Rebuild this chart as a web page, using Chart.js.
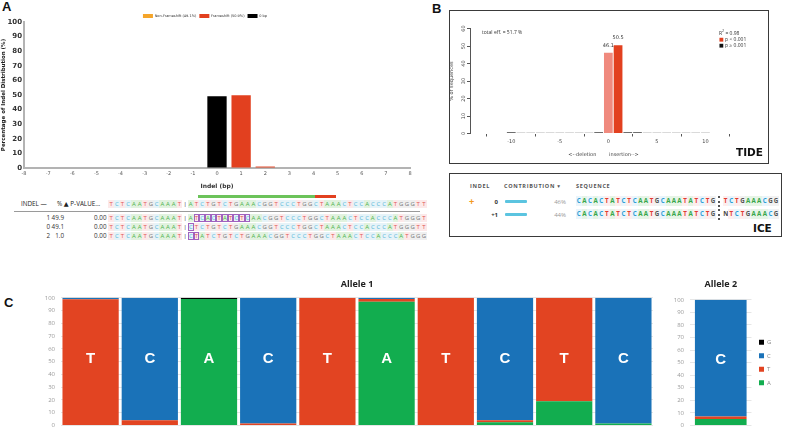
<!DOCTYPE html>
<html>
<head>
<meta charset="utf-8">
<title>Indel analysis</title>
<script src="https://cdn.jsdelivr.net/npm/chart.js@4.4.1/dist/chart.umd.min.js"></script>
<style>
  html, body { margin: 0; padding: 0; background: #fff; }
  body { position: relative; width: 785px; height: 429px; overflow: hidden; font-family: "Open Sans", "DejaVu Sans", sans-serif; color: #222; }
  canvas { position: absolute; }
  .tag { position: absolute; font: bold 13px "Liberation Sans", Arial, sans-serif; color: #111; line-height: 13px; }
  .frame { position: absolute; border: 1.5px solid #3a3a3a; box-sizing: border-box; }
  .txt { position: absolute; white-space: nowrap; line-height: 1; }
  .seq { position: absolute; white-space: nowrap; font-size: 0; }
  .seq span { display: inline-block; width: 5.7px; height: 8px; line-height: 8px; text-align: center; font-size: 6px; vertical-align: top; }
  .ice span { width: 5.6px; height: 10px; line-height: 10px; font-size: 6.2px; font-weight: bold; }
  .ice span.cut { width: 3px; height: 11px; margin: 0 0 0 2px; border-left: 2px dotted #555; background: none; }
  .nT { background: #fce9e9; color: #e05656; }
  .nC { background: #e6f3f8; color: #54b7d9; }
  .nA { background: #e1f2df; color: #4fb34f; }
  .nG { background: #efefef; color: #7a7a7a; }
  .nN { color: #444; }
  .nBar { color: #333; }
  .ice .nT { background: #fdeeee; color: #e03c31; }
  .ice .nC { background: #eaf5fb; color: #2f9fd6; }
  .ice .nA { background: #e6f4e6; color: #36a64a; }
  .ice .nG { background: #f2f2f2; color: #555; }
  .boxed { box-shadow: inset 0 0 0 1px #a062bf; }
  .hdr { font-size: 5.5px; letter-spacing: 0.7px; color: #555; font-weight: bold; }
</style>
</head>
<body>

<div class="tag" style="left:2px;top:0px;">A</div>
<div class="tag" style="left:432px;top:2px;">B</div>
<div class="tag" style="left:4px;top:296px;">C</div>

<canvas id="chartA" width="420" height="190" style="left:0;top:0;"></canvas>
<div id="tableA"></div>

<div class="frame" style="left:449px;top:10px;width:320px;height:154px;"></div>
<canvas id="chartB" width="320" height="154" style="left:449px;top:10px;"></canvas>
<div class="txt" style="left:482px;top:30px;font-size:5px;color:#333;">total eff. = 51.7 %</div>
<div class="txt" style="left:719px;top:29px;font-size:5px;color:#333;">R<sup style="font-size:3.5px">2</sup> = 0.98</div>
<div class="txt" style="left:719px;top:37px;font-size:5px;color:#333;"><span style="color:#e2401f">&#9632;</span> p &lt; 0.001</div>
<div class="txt" style="left:719px;top:43px;font-size:5px;color:#333;"><span style="color:#111">&#9632;</span> p &ge; 0.001</div>
<div class="txt" style="left:736px;top:146px;font:bold 10.5px 'DejaVu Sans',sans-serif;color:#111;">TIDE</div>

<div class="frame" style="left:449px;top:173px;width:333px;height:64px;"></div>
<div id="tableIce"></div>
<div class="txt" style="left:753px;top:222px;font:bold 10.5px 'DejaVu Sans',sans-serif;color:#111;">ICE</div>

<canvas id="chartC1" width="630" height="159" style="left:28px;top:276px;"></canvas>
<canvas id="chartC2" width="130" height="159" style="left:655px;top:276px;"></canvas>

<script>
// ---------- Panel A : indel distribution ----------
const indelLabelsA = ['-8','-7','-6','-5','-4','-3','-2','-1','0','1','2','3','4','5','6','7','8'];
const nonFrameshiftA = [null,null,null,null,null,null,null,null,null,null,null,null,null,null,null,null,null];
const frameshiftA   = [null,null,null,null,null,null,null,null,null,49.9,1.0,null,null,null,null,null,null];
const zeroBpA       = [null,null,null,null,null,null,null,null,49.1,null,null,null,null,null,null,null,null];

// sequence table under A
const refSeqA = 'TCTCAATGCAAAT|ATCTGTCTGAAACGGTCCCTGGCTAAACTCCACCCATGGGTT';
const rowSeqA = [
  'TCTCAATGCAAAT|ATCACTATCTCAACGGTCCCTGGCTAAACTCCACCCATGGGT',
  'TCTCAATGCAAAT|CTCTGTCTGAAACGGTCCCTGGCTAAACTCCACCCATGGGTT',
  'TCTCAATGCAAAT|CTATCTGTCTGAAACGGTCCCTGGCTAAACTCCACCCATGGG'
];
const rowIndelA = ['1', '0', '2'];
const rowPctA = ['49.9', '49.1', '1.0'];
const rowPvalA = ['0.00', '0.00', '0.00'];
const rowBoxedA = [[15,16,17,18,19,20,21,22,23,24], [14], [14,15]];
const guideCharsA = [15.8, 36.2];
const pamCharsA = [36.2, 40];

// ---------- Panel B : TIDE ----------
const indelB = [-10,-9,-8,-7,-6,-5,-4,-3,-2,-1,0,1,2,3,4,5,6,7,8,9,10];
const wtB     = [null,null,null,null,null,null,null,null,null,null,46.1,null,null,null,null,null,null,null,null,null,null];
const sigB    = [null,null,null,null,null,null,null,null,null,null,null,50.5,null,null,null,null,null,null,null,null,null];
const nonSigB = [0.8,0.4,0.4,0.4,0.4,0.4,0.4,0.4,0.4,0.8,null,null,0.8,0.8,0.4,0.4,0.4,0.4,0.4,0.4,0.4];
const xTicksB = [-10, -5, 0, 5, 10];

// ---------- ICE ----------
const iceIndels = ['0', '+1'];
const iceContrib = ['46%', '44%'];
const iceSeqs = [
  'CACACTATCTCAATGCAAATATCTG¦TCTGAAACGG',
  'CACACTATCTCAATGCAAATATCTG¦NTCTGAAACG'
];

// ---------- Panel C : base composition ----------
const allele1Bases = ['T','C','A','C','T','A','T','C','T','C'];
const allele1A = [0,   0,  99,   0,   0, 97,   0, 2.5, 19, 1.5];
const allele1T = [98.8,4,   0, 1.5, 100,  2, 100, 1.5, 81,   0];
const allele1C = [1,  96,   0, 98.5,  0,  1,   0,  96,  0, 98.5];
const allele1G = [0.2, 0,   1,   0,   0,  0,   0,   0,  0,   0];
const allele2Bases = ['C'];
const allele2A = [5];
const allele2T = [2];
const allele2C = [93];
const allele2G = [0];

const baseColors = { A: '#12ad4f', T: '#e24422', C: '#1a72b8', G: '#000000' };

Chart.defaults.font.family = '"DejaVu Sans", sans-serif';
Chart.defaults.animation = false;
Chart.defaults.responsive = false;
Chart.defaults.plugins.tooltip.enabled = false;

// ----- sequence helper -----
function seqHtml(seq, boxed) {
  return seq.split('').map((ch, i) => {
    if (ch === '¦') return '<span class="cut"></span>';
    const cls = ch === '|' ? 'nBar' : 'n' + ch;
    const b = boxed && boxed.includes(i) ? ' boxed' : '';
    return '<span class="' + cls + b + '">' + ch + '</span>';
  }).join('');
}

// ----- table A -----
(function () {
  const seqLeft = 108.3, cell = 5.7;
  let html = '';
  html += '<div style="position:absolute;left:' + (seqLeft + guideCharsA[0] * cell) + 'px;top:195px;width:' + ((guideCharsA[1] - guideCharsA[0]) * cell) + 'px;height:2.5px;background:#6cc35a"></div>';
  html += '<div style="position:absolute;left:' + (seqLeft + pamCharsA[0] * cell) + 'px;top:195px;width:' + ((pamCharsA[1] - pamCharsA[0]) * cell) + 'px;height:2.5px;background:#e2401f"></div>';
  html += '<div class="txt" style="left:21px;top:200.5px;font-size:6.3px;color:#222">INDEL &mdash;</div>';
  html += '<div class="txt" style="left:57px;top:200.5px;font-size:6.3px;color:#222">% &#9650; P-VALUE...</div>';
  html += '<div class="seq" style="left:' + seqLeft + 'px;top:200px;">' + seqHtml(refSeqA) + '</div>';
  html += '<div style="position:absolute;left:14px;top:210.5px;width:406px;height:1px;background:#9a9a9a"></div>';
  rowSeqA.forEach((s, i) => {
    const top = 214 + i * 9;
    html += '<div class="txt" style="left:30px;width:20px;text-align:right;top:' + (top + 1) + 'px;font-size:6.3px;color:#333">' + rowIndelA[i] + '</div>';
    html += '<div class="txt" style="left:44px;width:20px;text-align:right;top:' + (top + 1) + 'px;font-size:6.3px;color:#333">' + rowPctA[i] + '</div>';
    html += '<div class="txt" style="left:86px;width:20.5px;text-align:right;top:' + (top + 1) + 'px;font-size:6.3px;color:#333">' + rowPvalA[i] + '</div>';
    html += '<div class="seq" style="left:' + seqLeft + 'px;top:' + top + 'px;">' + seqHtml(s, rowBoxedA[i]) + '</div>';
  });
  document.getElementById('tableA').innerHTML = html;
})();

// ----- ICE table -----
(function () {
  let html = '';
  html += '<div class="txt hdr" style="left:470px;top:183.5px">INDEL</div>';
  html += '<div class="txt hdr" style="left:504px;top:183.5px">CONTRIBUTION &#9662;</div>';
  html += '<div class="txt hdr" style="left:576px;top:183.5px">SEQUENCE</div>';
  iceSeqs.forEach((s, i) => {
    const top = 196 + i * 13;
    if (i === 0) html += '<div class="txt" style="left:469px;top:' + (top + 1) + 'px;font:bold 9px sans-serif;color:#f39a1e">+</div>';
    html += '<div class="txt" style="left:480px;width:18px;text-align:right;top:' + (top + 2.5) + 'px;font-size:6px;color:#333;font-weight:bold">' + iceIndels[i] + '</div>';
    html += '<div style="position:absolute;left:505px;top:' + (top + 4) + 'px;width:22px;height:2.5px;border-radius:1px;background:#5bc4e0"></div>';
    html += '<div class="txt" style="left:540px;width:26px;text-align:right;top:' + (top + 2.5) + 'px;font-size:6px;color:#999">' + iceContrib[i] + '</div>';
    html += '<div class="seq ice" style="left:576px;top:' + top + 'px;">' + seqHtml(s) + '</div>';
  });
  document.getElementById('tableIce').innerHTML = html;
})();

// ----- Chart A -----
new Chart(document.getElementById('chartA'), {
  type: 'bar',
  data: {
    labels: indelLabelsA,
    datasets: [
      { label: 'Non-Frameshift (49.1%)', data: nonFrameshiftA, backgroundColor: '#f5a52a' },
      { label: 'Frameshift (50.9%)', data: frameshiftA, backgroundColor: '#e2401f' },
      { label: '0 bp', data: zeroBpA, backgroundColor: '#000000' }
    ]
  },
  options: {
    layout: { padding: { top: 11, right: 10, left: 0, bottom: 0 } },
    datasets: { bar: { categoryPercentage: 0.8, barPercentage: 1 } },
    plugins: {
      legend: {
        position: 'top',
        maxHeight: 11,
        labels: { boxWidth: 10, boxHeight: 4, padding: 3, color: '#333', font: { size: 3.5 } }
      }
    },
    scales: {
      x: {
        stacked: true,
        offset: false,
        grid: { display: true, drawOnChartArea: false, drawTicks: false, color: 'transparent' },
        border: { color: '#b3b3b3', width: 2 },
        ticks: { font: { size: 5 }, color: '#555', padding: 3, autoSkip: false, maxRotation: 0 },
        title: { display: true, text: 'Indel (bp)', font: { size: 6, weight: 'bold' }, color: '#333', padding: { top: 1, bottom: 0 } },
        afterFit: s => { s.height = 22; }
      },
      y: {
        stacked: true,
        min: 0,
        max: 100,
        ticks: { stepSize: 10, font: { size: 7, weight: 'bold' }, color: '#333', padding: 2 },
        grid: { display: true, drawOnChartArea: false, drawTicks: false, color: 'transparent' },
        border: { color: '#b3b3b3', width: 2 },
        title: { display: true, text: 'Percentage of Indel Distribution (%)', font: { size: 5.5, weight: 'bold' }, color: '#222', padding: 0 },
        afterFit: s => { s.width = 24; }
      }
    }
  }
});

// ----- Chart B -----
const toXY = (xs, ys) => xs.map((x, i) => ({ x: x, y: ys[i] }));

const tideValuePlugin = {
  id: 'tideValues',
  afterDatasetsDraw(chart) {
    const ctx = chart.ctx;
    ctx.save();
    ctx.font = '5px "DejaVu Sans", sans-serif';
    ctx.fillStyle = '#333';
    ctx.textAlign = 'center';
    ctx.textBaseline = 'bottom';
    [0, 1].forEach(d => {
      const meta = chart.getDatasetMeta(d);
      meta.data.forEach((bar, i) => {
        const v = chart.data.datasets[d].data[i].y;
        if (v !== null) ctx.fillText(v.toFixed(1), bar.x, bar.y - 5);
      });
    });
    ctx.restore();
  }
};

new Chart(document.getElementById('chartB'), {
  type: 'bar',
  data: {
    datasets: [
      { label: 'wt', data: toXY(indelB, wtB), backgroundColor: '#f08a7e' },
      { label: 'p < 0.001', data: toXY(indelB, sigB), backgroundColor: '#e2401f' },
      { label: 'p ≥ 0.001', data: toXY(indelB, nonSigB), backgroundColor: '#6e6e6e' }
    ]
  },
  options: {
    layout: { padding: { top: 18.5, right: 32, left: 0, bottom: 0 } },
    datasets: { bar: { categoryPercentage: 0.9, barPercentage: 1 } },
    plugins: { legend: { display: false } },
    scales: {
      x: {
        type: 'linear',
        stacked: true,
        min: -11.5,
        max: 10.5,
        afterBuildTicks: s => { s.ticks = xTicksB.map(v => ({ value: v })); },
        grid: { display: true, drawOnChartArea: false, tickLength: 3, color: '#555' },
        border: { display: false },
        ticks: { font: { size: 5 }, color: '#444', padding: 2, maxRotation: 0 },
        title: { display: true, text: '<--deletion        insertion-->', font: { size: 5 }, color: '#444', padding: { top: 0, bottom: 6 } },
        afterFit: s => { s.height = 30.5; }
      },
      y: {
        stacked: true,
        min: 0,
        max: 60,
        ticks: { stepSize: 10, font: { size: 5 }, color: '#444', minRotation: 90, maxRotation: 90, padding: 0, crossAlign: 'center' },
        grid: { display: true, drawOnChartArea: false, tickLength: 3, color: '#555' },
        border: { color: '#555', width: 1 },
        title: { display: true, text: '% of sequences', font: { size: 5 }, color: '#444', padding: 0 },
        afterFit: s => { s.width = 21; }
      }
    }
  },
  plugins: [tideValuePlugin]
});

// ----- Chart C -----
const baseLetterPlugin = {
  id: 'baseLetters',
  afterDatasetsDraw(chart) {
    const { ctx, chartArea } = chart;
    const meta = chart.getDatasetMeta(0);
    ctx.save();
    ctx.fillStyle = '#ffffff';
    ctx.font = 'bold 15px "Liberation Sans", Arial, sans-serif';
    ctx.textAlign = 'center';
    ctx.textBaseline = 'middle';
    meta.data.forEach((bar, i) => {
      ctx.fillText(chart.data.labels[i], bar.x, (chartArea.top + chartArea.bottom) / 2 - 3);
    });
    ctx.restore();
  }
};

function baseDatasets(a, t, c, g) {
  return [
    { label: 'A', data: a, backgroundColor: baseColors.A },
    { label: 'T', data: t, backgroundColor: baseColors.T },
    { label: 'C', data: c, backgroundColor: baseColors.C },
    { label: 'G', data: g, backgroundColor: baseColors.G }
  ];
}

const yAxisC = (width) => ({
  stacked: true,
  min: 0,
  max: 100,
  ticks: { stepSize: 10, font: { size: 6, family: '"Open Sans", sans-serif' }, color: '#9a9a9a', padding: 6 },
  grid: { color: '#e6e6e6', drawTicks: false },
  border: { display: false },
  afterFit: s => { s.width = width; }
});

new Chart(document.getElementById('chartC1'), {
  type: 'bar',
  data: { labels: allele1Bases, datasets: baseDatasets(allele1A, allele1T, allele1C, allele1G) },
  options: {
    layout: { padding: { top: 0, right: 5, left: 0, bottom: 0 } },
    datasets: { bar: { categoryPercentage: 1, barPercentage: 0.95 } },
    plugins: {
      legend: { display: false },
      title: { display: true, text: 'Allele 1', fullSize: false, font: { size: 9, weight: 'bold', family: '"Open Sans", sans-serif' }, color: '#222', padding: { top: 3, bottom: 8 } }
    },
    scales: { x: { stacked: true, display: false }, y: yAxisC(33) }
  },
  plugins: [baseLetterPlugin]
});

new Chart(document.getElementById('chartC2'), {
  type: 'bar',
  data: { labels: allele2Bases, datasets: baseDatasets(allele2A, allele2T, allele2C, allele2G) },
  options: {
    layout: { padding: { top: 0, right: 13.5, left: 0, bottom: 0 } },
    datasets: { bar: { categoryPercentage: 1, barPercentage: 0.84 } },
    plugins: {
      legend: {
        position: 'right',
        reverse: true,
        fullSize: false,
        maxWidth: 20,
        labels: { boxWidth: 5, boxHeight: 5, padding: 7.5, color: '#8a8a8a', font: { size: 6, family: '"Open Sans", sans-serif' } }
      },
      title: { display: true, text: 'Allele 2', fullSize: false, font: { size: 9, weight: 'bold', family: '"Open Sans", sans-serif' }, color: '#222', padding: { top: 3, bottom: 10 } }
    },
    scales: { x: { stacked: true, display: false }, y: yAxisC(35) }
  },
  plugins: [baseLetterPlugin]
});
</script>
</body>
</html>
